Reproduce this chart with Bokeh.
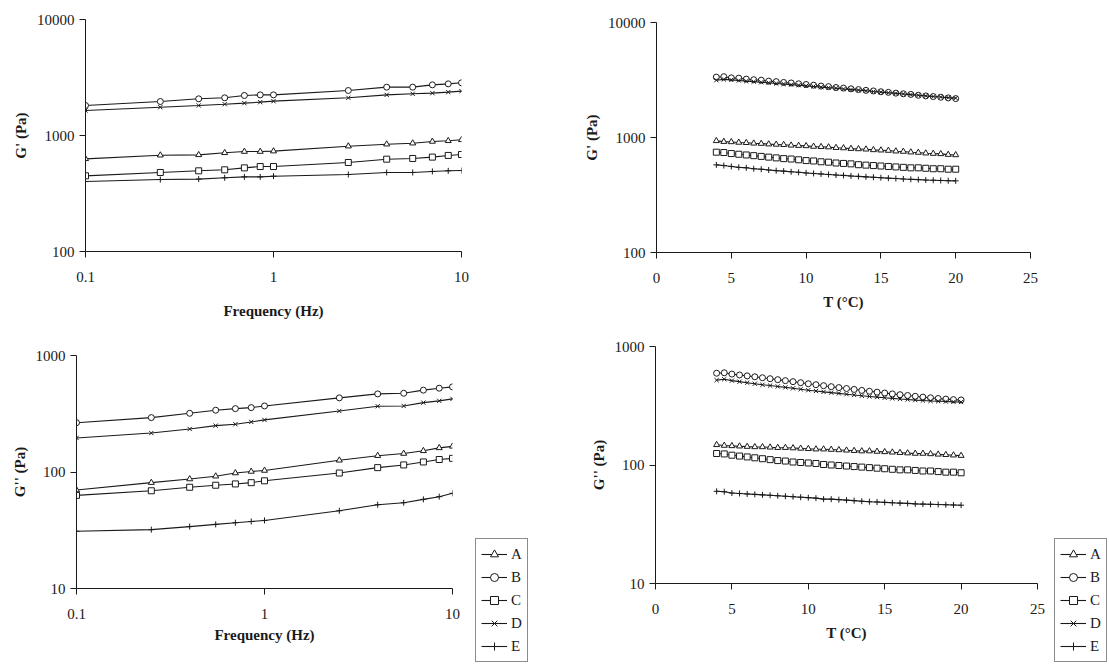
from bokeh.plotting import figure
from bokeh.models import Range1d, FixedTicker, CustomJSTickFormatter, Legend, LegendItem, Spacer
from bokeh.layouts import column, row
from bokeh.embed import file_html
from bokeh.resources import INLINE

# ---------------- data ----------------
series = ["A", "B", "C", "D", "E"]
freq = [0.1, 0.25, 0.4, 0.55, 0.7, 0.85, 1, 2.5, 4, 5.5, 7, 8.5, 10]

# G' vs frequency (Pa)
gp_freq_A = [629, 676, 681, 709, 727, 727, 733, 809, 841, 858, 888, 900, 918]
gp_freq_B = [1815, 1963, 2071, 2113, 2213, 2240, 2240, 2443, 2610, 2610, 2734, 2788, 2845]
gp_freq_C = [449, 480, 496, 506, 526, 540, 540, 585, 625, 634, 651, 673, 686]
gp_freq_D = [1643, 1754, 1815, 1862, 1900, 1938, 1977, 2113, 2240, 2287, 2318, 2365, 2411]
gp_freq_E = [401, 417, 421, 432, 440, 440, 446, 461, 480, 480, 490, 496, 499]

# G'' vs frequency (Pa)
gpp_freq_A = [70, 81, 87, 92, 98, 101, 103, 126, 138, 144, 152, 161, 166]
gpp_freq_B = [265, 293, 319, 339, 350, 357, 369, 433, 468, 474, 504, 524, 538]
gpp_freq_C = [63, 69, 74, 77, 79, 81, 84, 98, 109, 115, 122, 128, 131]
gpp_freq_D = [196, 216, 234, 250, 257, 269, 280, 334, 367, 369, 394, 408, 424]
gpp_freq_E = [31, 32, 34, 35.5, 36.7, 37.6, 38.4, 46.5, 52.4, 54.5, 58.2, 61.4, 65.6]

temp = [4.0, 4.5, 5.0, 5.5, 6.0, 6.5, 7.0, 7.5, 8.0, 8.5, 9.0, 9.5, 10.0, 10.5,
        11.0, 11.5, 12.0, 12.5, 13.0, 13.5, 14.0, 14.5, 15.0, 15.5, 16.0, 16.5,
        17.0, 17.5, 18.0, 18.5, 19.0, 19.5, 20.0]

# G' vs temperature (Pa)
gp_T_A = [935, 920, 915, 905, 900, 890, 885, 875, 870, 865, 855, 850, 845, 835, 830, 825, 815,
          810, 800, 795, 790, 780, 775, 770, 760, 755, 745, 740, 730, 725, 720, 710, 705]
gp_T_B = [3350, 3380, 3300, 3280, 3220, 3180, 3150, 3090, 3060, 3010, 2980, 2930, 2890, 2850,
          2800, 2770, 2720, 2690, 2650, 2610, 2570, 2540, 2500, 2470, 2430, 2400, 2370, 2330,
          2300, 2270, 2240, 2210, 2180]
gp_T_C = [745, 740, 725, 715, 705, 695, 685, 675, 665, 655, 650, 640, 630, 625, 615, 610, 600,
          595, 590, 580, 575, 570, 565, 560, 555, 550, 545, 545, 540, 535, 535, 530, 530]
gp_T_D = [3150, 3200, 3170, 3130, 3090, 3060, 3020, 2990, 2950, 2920, 2880, 2850, 2810, 2780,
          2740, 2710, 2680, 2640, 2610, 2580, 2550, 2510, 2480, 2450, 2420, 2390, 2360, 2330,
          2300, 2270, 2250, 2220, 2200]
gp_T_E = [578, 570, 560, 550, 545, 535, 530, 522, 515, 510, 503, 498, 492, 487, 482, 477, 472,
          468, 463, 459, 455, 451, 447, 443, 440, 436, 433, 430, 427, 425, 423, 421, 420]

# G'' vs temperature (Pa)
gpp_T_A = [148, 146, 145, 144, 143, 142, 142, 141, 140, 140, 139, 138, 137, 136, 136, 135, 134,
           133, 132, 131, 131, 130, 129, 128, 127, 126, 125, 125, 124, 123, 122, 121, 120]
gpp_T_B = [595, 600, 585, 575, 565, 555, 545, 535, 525, 515, 505, 495, 485, 476, 467, 458, 450,
           442, 434, 426, 419, 412, 405, 398, 392, 386, 380, 374, 369, 364, 360, 356, 354]
gpp_T_C = [125, 124, 121, 119, 117, 115, 113, 111, 109, 108, 106, 105, 104, 103, 101, 100, 99,
           98, 97, 96, 95, 94, 93, 92, 91, 91, 90, 89, 89, 88, 87, 87, 86]
gpp_T_D = [520, 530, 515, 505, 495, 485, 475, 468, 460, 452, 444, 436, 428, 421, 414, 408, 402,
           396, 390, 384, 379, 374, 369, 365, 361, 357, 353, 350, 347, 345, 343, 341, 340]
gpp_T_E = [60, 59.5, 58, 57.5, 57, 56.5, 56, 55.5, 55, 54.5, 54, 53.5, 53, 52.5, 51.5, 51.5, 51,
           50.5, 50, 49.5, 49, 48.7, 48.4, 48, 47.7, 47.4, 47, 46.8, 46.6, 46.4, 46.2, 46, 45.8]

markers = {"A": "triangle", "B": "circle", "C": "square", "D": "x", "E": "cross"}

FONT = "Liberation Serif"
INK = "#1a1a1a"
NAN = float("nan")

fmt = CustomJSTickFormatter(code="return tick.toString();")


def make_fig(w, h, borders, x_log, x_rng, x_ticks, y_rng, y_ticks, xlabel, ylabel, xl_standoff):
    left, right, top, bottom = borders
    p = figure(width=w, height=h, output_backend="svg", toolbar_location=None, title=None,
               x_axis_type="log" if x_log else "linear", y_axis_type="log",
               x_range=Range1d(*x_rng), y_range=Range1d(*y_rng),
               min_border_left=left, min_border_right=right,
               min_border_top=top, min_border_bottom=bottom)
    p.outline_line_color = None
    p.grid.visible = False
    p.background_fill_color = "white"
    p.border_fill_color = "white"
    for ax, ticks in ((p.xaxis[0], x_ticks), (p.yaxis[0], y_ticks)):
        ax.ticker = FixedTicker(ticks=ticks, minor_ticks=[])
        ax.formatter = fmt
        ax.axis_line_color = INK
        ax.major_tick_line_color = INK
        ax.minor_tick_line_color = None
        ax.major_tick_out = 6
        ax.major_tick_in = 0
        ax.major_label_text_font = FONT
        ax.major_label_text_font_size = "15px"
        ax.major_label_text_color = INK
        ax.axis_label_text_font = FONT
        ax.axis_label_text_font_style = "bold"
        ax.axis_label_text_font_size = "15px"
        ax.axis_label_text_color = INK
    p.xaxis[0].major_label_standoff = 14
    p.yaxis[0].major_label_standoff = 5
    p.xaxis[0].axis_label = xlabel
    p.yaxis[0].axis_label = ylabel
    p.xaxis[0].axis_label_standoff = xl_standoff
    p.yaxis[0].axis_label_standoff = 5
    return p


def add_series(p, x, ys):
    for name, y in zip(series, ys):
        p.line(x, y, line_color=INK, line_width=1.1)
        p.scatter(x, y, marker=markers[name], size=6, line_color=INK,
                  fill_color="white", line_width=1)


def legend_fig(w, h):
    lf = figure(width=w, height=h, output_backend="svg", toolbar_location=None, title=None,
                x_range=Range1d(0, 1), y_range=Range1d(0, 1),
                x_axis_location=None, y_axis_location=None,
                min_border_left=0, min_border_right=0, min_border_top=0, min_border_bottom=0)
    lf.outline_line_color = None
    lf.grid.visible = False
    items = []
    for name in series:
        # placeholder renderers (NaN: nothing drawn) that only give the legend its glyphs
        lr = lf.line(x=[NAN], y=[NAN], line_color=INK, line_width=1.1)
        sr = lf.scatter(x=[NAN], y=[NAN], marker=markers[name], size=6, line_color=INK,
                        fill_color="white", line_width=1)
        items.append(LegendItem(label=name, renderers=[lr, sr]))
    lg = Legend(items=items, location="top_left", orientation="vertical",
                label_text_font=FONT, label_text_font_size="15px", label_text_color=INK,
                glyph_width=26, glyph_height=20, label_height=20, label_width=10,
                spacing=3, label_standoff=4, padding=5, margin=0,
                border_line_color=INK, border_line_width=1,
                background_fill_color="white", background_fill_alpha=1.0)
    lf.add_layout(lg, "center")
    return lf


# top-left: G' vs frequency
p1 = make_fig(570, 330, (85, 109, 19, 79), True, (0.1, 10), [0.1, 1, 10],
              (100, 10000), [100, 1000, 10000], "Frequency (Hz)", "G' (Pa)", 18)
add_series(p1, freq, [gp_freq_A, gp_freq_B, gp_freq_C, gp_freq_D, gp_freq_E])

# top-right: G' vs T
p2 = make_fig(535, 330, (86, 75, 22, 78), False, (0, 25), [0, 5, 10, 15, 20, 25],
              (100, 10000), [100, 1000, 10000], "T (°C)", "G' (Pa)", 8)
add_series(p2, temp, [gp_T_A, gp_T_B, gp_T_C, gp_T_D, gp_T_E])

# bottom-left: G'' vs frequency
p3 = make_fig(475, 333, (76, 23, 25, 75), True, (0.1, 10), [0.1, 1, 10],
              (10, 1000), [10, 100, 1000], "Frequency (Hz)", "G'' (Pa)", 5)
add_series(p3, freq, [gpp_freq_A, gpp_freq_B, gpp_freq_C, gpp_freq_D, gpp_freq_E])
lf3 = legend_fig(105, 125)

# bottom-right: G'' vs T
p4 = make_fig(474, 333, (75, 17, 16, 80), False, (0, 25), [0, 5, 10, 15, 20, 25],
              (10, 1000), [10, 100, 1000], "T (°C)", "G'' (Pa)", 8)
add_series(p4, temp, [gpp_T_A, gpp_T_B, gpp_T_C, gpp_T_D, gpp_T_E])
lf4 = legend_fig(53, 125)

# each figure sits in its own column so that the frames of a row are not aligned
layout = column(
    row(column(p1), column(p2)),
    row(column(p3), column(Spacer(width=105, height=208), lf3),
        column(p4), column(Spacer(width=53, height=208), lf4)),
)

open("out.html", "w").write(file_html(layout, INLINE))
